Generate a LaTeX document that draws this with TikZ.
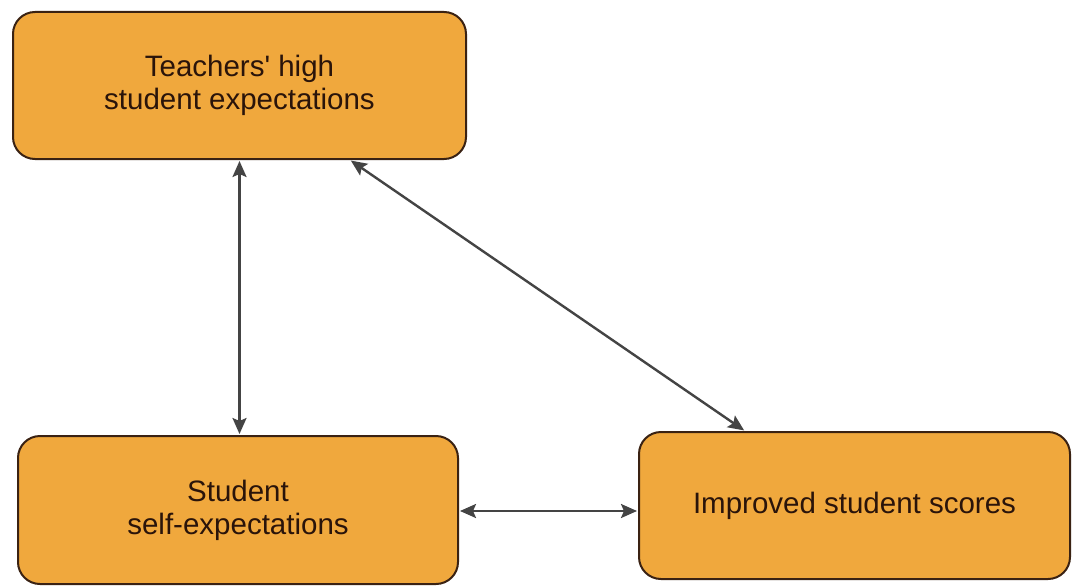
\documentclass[tikz,border=0pt]{standalone}
\usepackage{fontspec}
\setmainfont{Liberation Sans}
\usetikzlibrary{arrows.meta}
\definecolor{boxfill}{HTML}{F0A83D}
\definecolor{boxedge}{HTML}{3A2213}
\definecolor{boxtext}{HTML}{2A140A}
\definecolor{linkcol}{HTML}{444444}
\begin{document}
\begin{tikzpicture}[x=1pt,y=-1pt,
  factor/.style={draw=boxedge, fill=boxfill, line width=2pt, rounded corners=22pt,
    text=boxtext, align=center, inner sep=0pt,
    font=\fontsize{29.5}{33}\selectfont},
  link/.style={draw=linkcol, line width=2.4pt,
    {Stealth[length=16pt,width=14pt,inset=3pt]}-{Stealth[length=16pt,width=14pt,inset=3pt]},
    shorten <=1pt, shorten >=1pt}]
  \path[use as bounding box, fill=white] (0,0) rectangle (1073,586);

  \node[factor, minimum width=453pt, minimum height=147pt] (teach) at (239.5,85.5)
    {Teachers\textquotesingle\ high\\student expectations};
  \node[factor, minimum width=440pt, minimum height=148pt] (self) at (238,510)
    {Student\\self-expectations};
  \node[factor, minimum width=431pt, minimum height=147pt] (scores) at (854.5,505.5)
    {Improved student scores};

  \draw[link] (teach.south) -- (teach.south |- self.north);
  \draw[link] ([xshift=110.5pt]teach.south) -- ([xshift=-109.5pt]scores.north);
  \draw[link] ([yshift=-1pt]self.east) -- ([yshift=-1pt]self.east -| scores.west);
\end{tikzpicture}
\end{document}
